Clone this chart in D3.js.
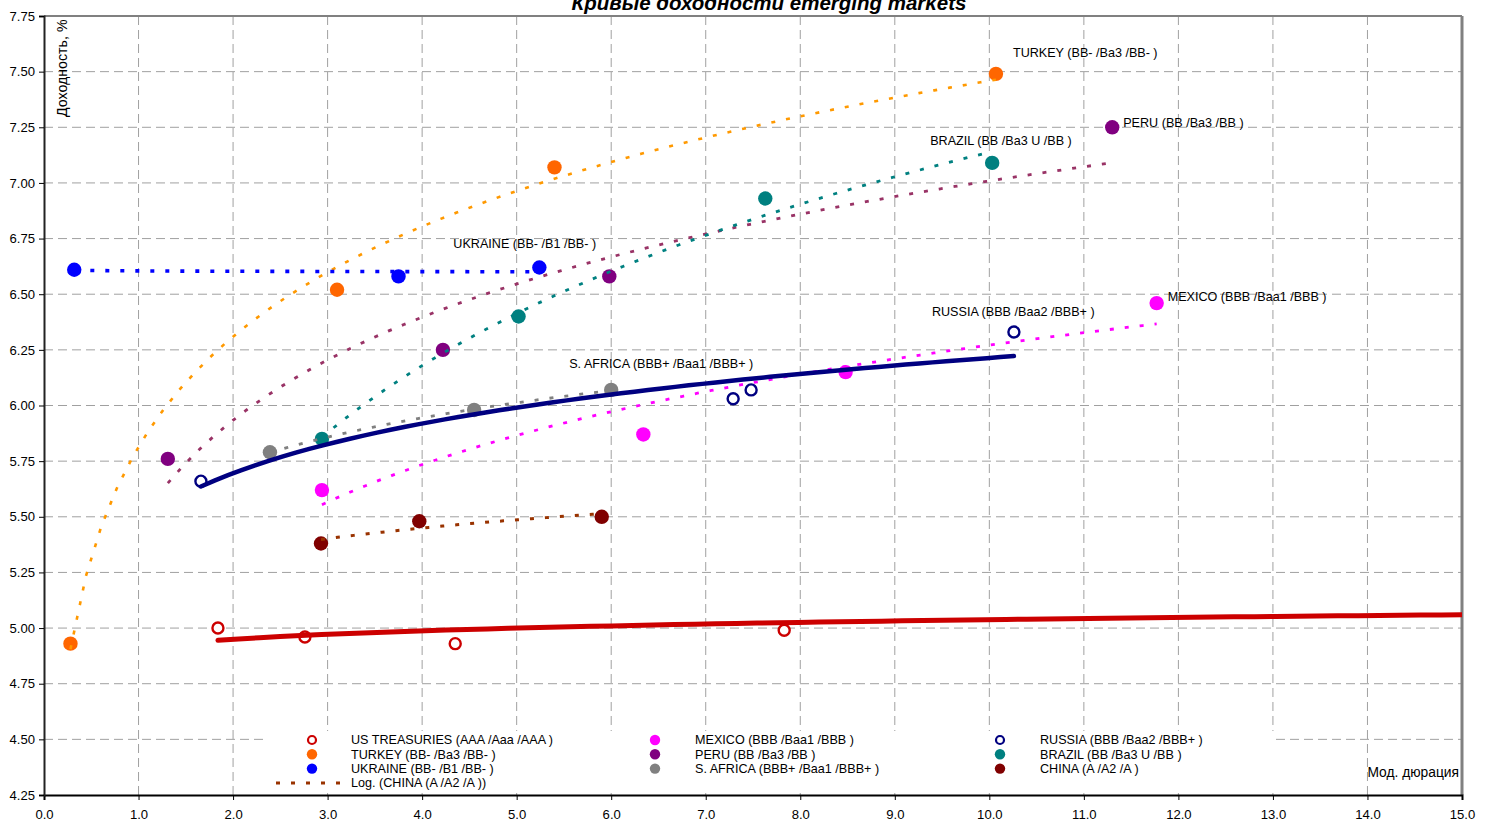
<!DOCTYPE html>
<html><head><meta charset="utf-8">
<script src="https://cdn.jsdelivr.net/npm/d3@7"></script>
<style>
html,body{margin:0;padding:0;background:#fff;}
svg text{font-family:"Liberation Sans",Arial,sans-serif;}
</style></head>
<body><svg id="c" width="1492" height="823"></svg>
<script>
// ---------- DATA ----------
const xTicks = [0,1,2,3,4,5,6,7,8,9,10,11,12,13,14,15];
const yTicks = [4.25,4.50,4.75,5.00,5.25,5.50,5.75,6.00,6.25,6.50,6.75,7.00,7.25,7.50,7.75];

const usTreasuriesX = [1.84, 2.76, 4.35, 7.83];
const usTreasuriesY = [5.00, 4.96, 4.93, 4.99];
const usTrendX = [1.84, 15.0];          // trendline as drawn (fit includes bonds beyond the axis)
const usTrendY = [4.945, 5.06];

const turkeyX = [0.28, 3.10, 5.40, 10.07];
const turkeyY = [4.93, 6.52, 7.07, 7.49];
const ukraineX = [0.32, 3.75, 5.24];
const ukraineY = [6.61, 6.58, 6.62];
const brazilX = [2.94, 5.02, 7.63, 10.03];
const brazilY = [5.85, 6.40, 6.93, 7.09];
const peruX = [1.31, 4.22, 5.98, 11.30];
const peruY = [5.76, 6.25, 6.58, 7.25];
const safricaX = [2.39, 4.55, 6.00];
const safricaY = [5.79, 5.98, 6.07];
const mexicoX = [2.94, 6.34, 8.48, 11.77];
const mexicoY = [5.62, 5.87, 6.15, 6.46];
const russiaX = [1.66, 7.29, 7.48, 10.26];
const russiaY = [5.66, 6.03, 6.07, 6.33];
const chinaX = [2.93, 3.97, 5.90];
const chinaY = [5.38, 5.48, 5.50];

const seriesNames = {
  us: "US TREASURIES (AAA /Aaa /AAA )",
  turkey: "TURKEY (BB- /Ba3 /BB- )",
  ukraine: "UKRAINE (BB- /B1 /BB- )",
  mexico: "MEXICO (BBB /Baa1 /BBB )",
  peru: "PERU (BB /Ba3 /BB )",
  safrica: "S. AFRICA (BBB+ /Baa1 /BBB+ )",
  russia: "RUSSIA (BBB /Baa2 /BBB+ )",
  brazil: "BRAZIL (BB /Ba3 U /BB )",
  china: "CHINA (A /A2 /A )"
};
const titleText = "Кривые доходности emerging markets";
const yTitle = "Доходность, %";
const xTitle = "Мод. дюрация";

// ---------- STYLE / LAYOUT ----------
const L = 44, R = 1462, T = 16, B = 795;
const FONT = 12.6;

const series = [
  {key:"us", xs:usTreasuriesX, ys:usTreasuriesY, col:"#cc0000", open:true, tcol:"#cc0000", solid:true, tw:5},
  {key:"turkey", xs:turkeyX, ys:turkeyY, col:"#ff6600", tcol:"#ff9900", tw:2.6},
  {key:"ukraine", xs:ukraineX, ys:ukraineY, col:"#0000ff", tcol:"#0000ff", tw:3.6, startPad:0.17},
  {key:"mexico", xs:mexicoX, ys:mexicoY, col:"#ff00ff", tcol:"#ff00ff", tw:2.8},
  {key:"peru", xs:peruX, ys:peruY, col:"#800080", tcol:"#993366", tw:2.8},
  {key:"safrica", xs:safricaX, ys:safricaY, col:"#808080", tcol:"#808080", tw:2.8},
  {key:"russia", xs:russiaX, ys:russiaY, col:"#000080", open:true, tcol:"#000080", solid:true, tw:4.5},
  {key:"brazil", xs:brazilX, ys:brazilY, col:"#008080", tcol:"#008080", tw:2.8},
  {key:"china", xs:chinaX, ys:chinaY, col:"#800000", tcol:"#993300", tw:3}
];
// label: anchor = last point of series, offsets in px
const labelPos = {
  turkey:{dx:17,dy:-21}, peru:{dx:11,dy:-5}, brazil:{dx:-62,dy:-22},
  ukraine:{dx:-86,dy:-24}, mexico:{dx:11,dy:-7}, russia:{dx:-82,dy:-20},
  safrica:{dx:-42,dy:-26}
};

const svg = d3.select("#c");
const x = d3.scaleLinear().domain([0,15]).range([L,R]);
const y = d3.scaleLinear().domain([4.25,7.75]).range([B,T]);

// gridlines
const g = svg.append("g");
g.selectAll("line.vg").data(xTicks.filter(v=>v>0 && v<15)).join("line")
  .attr("x1",d=>x(d)).attr("x2",d=>x(d)).attr("y1",T).attr("y2",B)
  .attr("stroke","#a0a0a0").attr("stroke-width",1).attr("stroke-dasharray","9,5");
g.selectAll("line.hg").data(yTicks.filter(v=>v>4.25 && v<7.75)).join("line")
  .attr("x1",L).attr("x2",R).attr("y1",d=>y(d)).attr("y2",d=>y(d))
  .attr("stroke","#a0a0a0").attr("stroke-width",1).attr("stroke-dasharray","9,5");

// legend background (covers grid)
svg.append("rect").attr("x",268).attr("y",731).attr("width",1008).attr("height",62).attr("fill","#fff");

// borders
svg.append("line").attr("x1",L).attr("x2",R).attr("y1",T).attr("y2",T).attr("stroke","#808080").attr("stroke-width",2);
svg.append("line").attr("x1",R).attr("x2",R).attr("y1",T).attr("y2",B).attr("stroke","#808080").attr("stroke-width",3);

// axes
const xAxis = d3.axisBottom(x).tickValues(xTicks).tickFormat(d3.format(".1f")).tickSize(5).tickPadding(10);
const gx = svg.append("g").attr("transform",`translate(0,${B})`).call(xAxis);
gx.select(".domain").attr("stroke","#000").attr("stroke-width",2);
gx.selectAll(".tick line").attr("stroke","#000");
gx.selectAll("text").attr("font-size",FONT+0.5).attr("fill","#000");
const yAxis = d3.axisLeft(y).tickValues(yTicks).tickFormat(d3.format(".2f")).tickSize(5).tickPadding(4);
const gy = svg.append("g").attr("transform",`translate(${L},0)`).call(yAxis);
gy.select(".domain").attr("stroke","#222").attr("stroke-width",2);
gy.selectAll(".tick line").attr("stroke","#000");
gy.selectAll("text").attr("font-size",FONT+0.5).attr("fill","#000");

// clip
svg.append("clipPath").attr("id","pc").append("rect").attr("x",L).attr("y",T).attr("width",R-L).attr("height",B-T);
const plot = svg.append("g").attr("clip-path","url(#pc)");

// points
series.forEach(s=>{
  const pts = s.xs.map((v,i)=>[v,s.ys[i]]);
  plot.append("g").selectAll("circle").data(pts).join("circle")
    .attr("cx",d=>x(d[0])).attr("cy",d=>y(d[1]))
    .attr("r",s.open?5.5:7.2)
    .attr("fill",s.open?"#fff":s.col)
    .attr("stroke",s.open?s.col:"none").attr("stroke-width",s.open?2.4:0);
});

// log trendlines (least squares y = a + b ln x)
function logFit(xs,ys){
  const lx = xs.map(Math.log);
  const mx = d3.mean(lx), my = d3.mean(ys);
  let sxy=0,sxx=0; lx.forEach((v,i)=>{sxy+=(v-mx)*(ys[i]-my); sxx+=(v-mx)*(v-mx);});
  const b = sxy/sxx; return {a:my-b*mx,b};
}
const line = d3.line().x(d=>x(d[0])).y(d=>y(d[1]));
function curve(x0,x1,f){
  return d3.range(0,61).map(i=>{const xv = x0+(x1-x0)*i/60; return [xv, f.a+f.b*Math.log(xv)];});
}
series.forEach(s=>{
  let f, x0, x1;
  if(s.key==="us"){
    const b = (usTrendY[1]-usTrendY[0])/Math.log(usTrendX[1]/usTrendX[0]);
    f = {a:usTrendY[0]-b*Math.log(usTrendX[0]), b}; x0=usTrendX[0]; x1=usTrendX[1];
  } else { f = logFit(s.xs,s.ys); x0=d3.min(s.xs); x1=d3.max(s.xs); }
  if(s.startPad) x0 += s.startPad;
  plot.append("path").datum(curve(x0,x1,f)).attr("d",line)
    .attr("fill","none").attr("stroke",s.tcol).attr("stroke-width",s.tw)
    .attr("stroke-linecap",s.solid?"round":"butt")
    .attr("stroke-dasharray",s.solid?null:"4,11");
});

// data labels
series.filter(s=>labelPos[s.key]).forEach(s=>{
  const i = s.xs.length-1, p = labelPos[s.key];
  svg.append("text").attr("x",x(s.xs[i])+p.dx).attr("y",y(s.ys[i])+p.dy)
    .attr("dy","0.35em").attr("font-size",FONT).attr("fill","#000").text(seriesNames[s.key]);
});

// titles
svg.append("text").attr("x",769).attr("y",10).attr("text-anchor","middle")
  .attr("font-size",20.5).attr("font-weight","bold").attr("font-style","italic").text(titleText);
svg.append("text").attr("transform","translate(67,117) rotate(-90)")
  .attr("font-size",14.2).text(yTitle);
svg.append("text").attr("x",1459).attr("y",777).attr("text-anchor","end")
  .attr("font-size",13.8).text(xTitle);

// legend
const legendCols = [
  {mx:312, tx:351, keys:["us","turkey","ukraine"]},
  {mx:655, tx:695, keys:["mexico","peru","safrica"]},
  {mx:1000, tx:1040, keys:["russia","brazil","china"]}
];
const rowY = [740, 754.3, 768.6, 783];
const byKey = Object.fromEntries(series.map(s=>[s.key,s]));
legendCols.forEach(c=>{
  c.keys.forEach((k,i)=>{
    const s = byKey[k];
    svg.append("circle").attr("cx",c.mx).attr("cy",rowY[i]).attr("r",s.open?4:5.2)
      .attr("fill",s.open?"#fff":s.col).attr("stroke",s.open?s.col:"none").attr("stroke-width",s.open?2.2:0);
    svg.append("text").attr("x",c.tx).attr("y",rowY[i]).attr("dy","0.35em")
      .attr("font-size",FONT).text(seriesNames[k]);
  });
});
svg.append("line").attr("x1",276).attr("x2",342).attr("y1",rowY[3]).attr("y2",rowY[3])
  .attr("stroke","#993300").attr("stroke-width",3).attr("stroke-dasharray","4,11");
svg.append("text").attr("x",351).attr("y",rowY[3]).attr("dy","0.35em")
  .attr("font-size",FONT).text("Log. (" + seriesNames.china + ")");
</script></body></html>
